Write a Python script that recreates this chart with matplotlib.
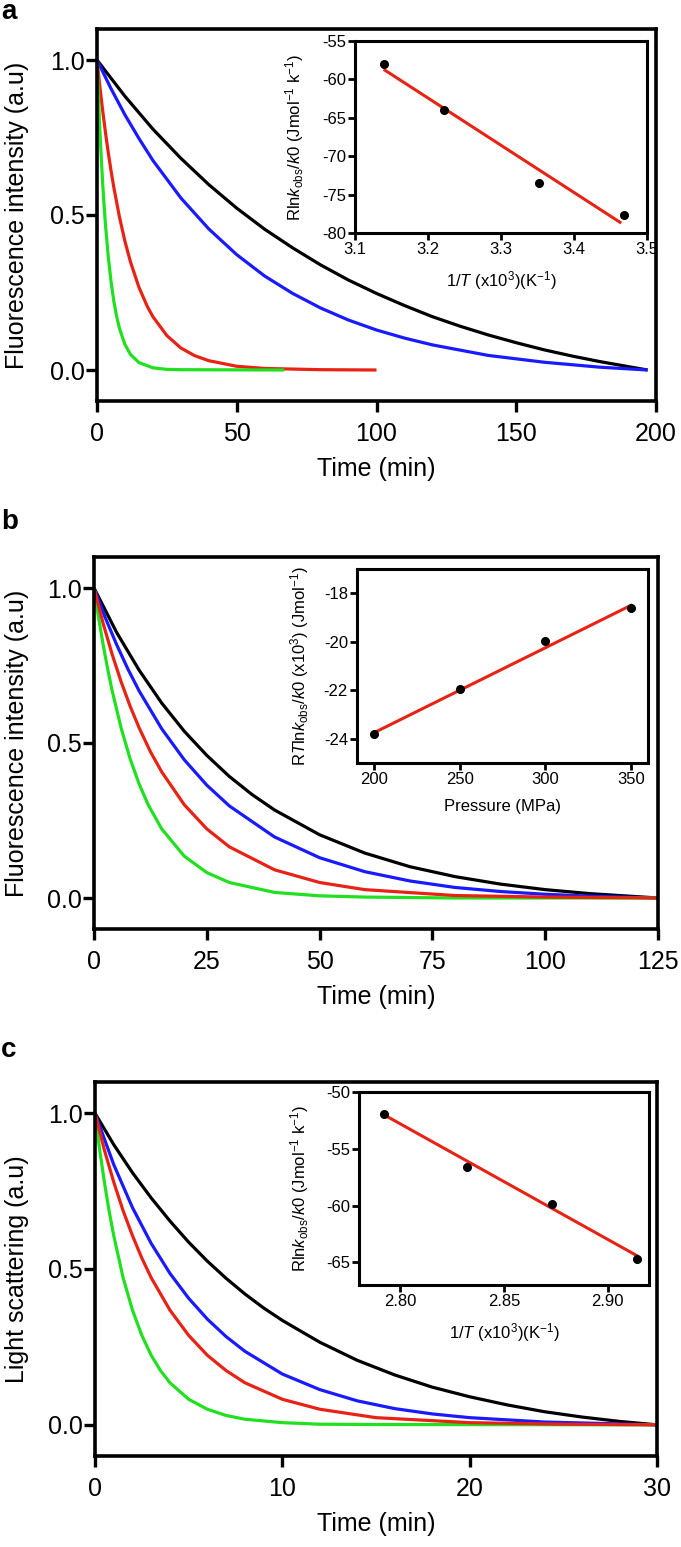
import matplotlib
matplotlib.use("Agg")
import matplotlib.pyplot as plt
import numpy as np

plt.rcParams['font.family'] = ['Liberation Sans', 'DejaVu Sans']
plt.rcParams['mathtext.fontset'] = 'custom'
plt.rcParams['mathtext.rm'] = 'Liberation Sans'
plt.rcParams['mathtext.it'] = 'Liberation Sans:italic'
plt.rcParams['axes.unicode_minus'] = False

# ---- panel a: fluorescence decay (min) ----
a_black_t = [0, 10, 20, 30, 40, 50, 60, 70, 80, 90, 100, 110, 120, 130, 140, 150, 160, 170, 180, 190, 197]
a_black_v = [1.0, 0.883, 0.777, 0.683, 0.598, 0.522, 0.454, 0.394, 0.339, 0.290, 0.247, 0.208, 0.172, 0.141, 0.113, 0.088, 0.065, 0.045, 0.027, 0.011, 0.0]
a_blue_t = [0, 5, 10, 15, 20, 30, 40, 50, 60, 70, 80, 90, 100, 110, 120, 140, 160, 180, 197]
a_blue_v = [1.0, 0.908, 0.823, 0.747, 0.676, 0.555, 0.455, 0.372, 0.303, 0.247, 0.200, 0.161, 0.129, 0.103, 0.081, 0.047, 0.025, 0.009, 0.0]
a_red_t = [0, 1, 2, 3, 4, 5, 6, 8, 10, 12, 15, 18, 20, 25, 30, 35, 40, 50, 60, 80, 100]
a_red_v = [1.0, 0.916, 0.839, 0.768, 0.703, 0.644, 0.590, 0.495, 0.415, 0.348, 0.267, 0.205, 0.172, 0.111, 0.071, 0.046, 0.030, 0.012, 0.005, 0.001, 0.0]
a_green_t = [0, 0.5, 1, 1.5, 2, 2.5, 3, 4, 5, 6, 7, 8, 10, 12, 15, 20, 25, 30, 67]
a_green_v = [1.0, 0.883, 0.779, 0.687, 0.607, 0.535, 0.472, 0.368, 0.287, 0.223, 0.174, 0.135, 0.082, 0.050, 0.024, 0.007, 0.002, 0.001, 0.0]
a_ins_x = [3.14, 3.222, 3.352, 3.468]
a_ins_y = [-58.0, -64.0, -73.5, -77.6]
a_fit_x = [3.141, 3.463]
a_fit_y = [-58.8, -78.6]

# ---- panel b ----
b_black_t = [0, 5, 10, 15, 20, 25, 30, 35, 40, 50, 60, 70, 80, 90, 100, 110, 125]
b_black_v = [1.0, 0.857, 0.735, 0.629, 0.538, 0.460, 0.392, 0.334, 0.284, 0.204, 0.145, 0.101, 0.069, 0.045, 0.027, 0.014, 0.0]
b_blue_t = [0, 2.5, 5, 7.5, 10, 15, 20, 25, 30, 40, 50, 60, 70, 80, 90, 100, 110, 125]
b_blue_v = [1.0, 0.904, 0.818, 0.739, 0.668, 0.546, 0.446, 0.364, 0.297, 0.197, 0.130, 0.085, 0.055, 0.034, 0.021, 0.012, 0.006, 0.0]
b_red_t = [0, 2, 4, 6, 8, 10, 12.5, 15, 20, 25, 30, 40, 50, 60, 80, 100, 125]
b_red_v = [1.0, 0.887, 0.787, 0.698, 0.619, 0.549, 0.472, 0.407, 0.301, 0.223, 0.165, 0.091, 0.050, 0.027, 0.008, 0.003, 0.0]
b_green_t = [0, 1, 2, 3, 4, 6, 8, 10, 12, 15, 20, 25, 30, 40, 50, 60, 80, 125]
b_green_v = [1.0, 0.905, 0.819, 0.741, 0.670, 0.549, 0.449, 0.368, 0.301, 0.223, 0.135, 0.082, 0.050, 0.018, 0.007, 0.003, 0.0, 0.0]
b_ins_x = [200, 250, 300, 350]
b_ins_y = [-23.8, -21.95, -19.97, -18.6]
b_fit_x = [200, 350]
b_fit_y = [-23.75, -18.5]

# ---- panel c: light scattering ----
c_black_t = [0, 1, 2, 3, 4, 5, 6, 7, 8, 9, 10, 12, 14, 16, 18, 20, 22, 24, 26, 28, 30]
c_black_v = [1.0, 0.899, 0.809, 0.728, 0.654, 0.586, 0.525, 0.470, 0.420, 0.375, 0.335, 0.265, 0.207, 0.160, 0.121, 0.090, 0.064, 0.042, 0.025, 0.011, 0.0]
c_blue_t = [0, 1, 2, 3, 4, 5, 6, 7, 8, 10, 12, 14, 16, 18, 20, 24, 30]
c_blue_v = [1.0, 0.835, 0.697, 0.582, 0.486, 0.406, 0.339, 0.283, 0.236, 0.163, 0.113, 0.077, 0.052, 0.035, 0.023, 0.009, 0.0]
c_red_t = [0, 0.5, 1, 1.5, 2, 2.5, 3, 4, 5, 6, 7, 8, 10, 12, 15, 20, 25, 30]
c_red_v = [1.0, 0.882, 0.779, 0.687, 0.607, 0.535, 0.472, 0.368, 0.287, 0.223, 0.174, 0.135, 0.082, 0.050, 0.023, 0.007, 0.002, 0.0]
c_green_t = [0, 0.25, 0.5, 0.75, 1, 1.5, 2, 2.5, 3, 3.5, 4, 5, 6, 7, 8, 10, 12, 15, 30]
c_green_v = [1.0, 0.882, 0.779, 0.687, 0.607, 0.472, 0.368, 0.287, 0.223, 0.174, 0.135, 0.082, 0.050, 0.030, 0.018, 0.007, 0.002, 0.001, 0.0]
c_ins_x = [2.792, 2.832, 2.873, 2.914]
c_ins_y = [-51.9, -56.6, -59.9, -64.7]
c_fit_x = [2.792, 2.914]
c_fit_y = [-52.0, -64.4]

W, H = 681, 1547
BLUE, RED, GREEN = '#1a1aff', '#e82214', '#20e020'


def box(l, t, r, b):
    return [l / W, 1 - b / H, (r - l) / W, (b - t) / H]


fig = plt.figure(figsize=(W / 100, H / 100), dpi=100)


def main_axes(px, xmax, xticks, ylabel, curves):
    l, t, r, b = px
    ax = fig.add_axes(box(*px))
    for tt, v, c in curves:
        ax.plot(tt, v, color=c, lw=2.3, solid_capstyle='butt', solid_joinstyle='round')
    ax.set_xlim(0, xmax)
    ax.set_ylim(-0.1, 1.1)
    ax.set_xticks(xticks)
    ax.set_yticks([0, 0.5, 1.0])
    ax.set_yticklabels(['0.0', '0.5', '1.0'])
    for s in ax.spines.values():
        s.set_linewidth(2.6)
    ax.tick_params(direction='out', length=8, width=2.4, labelsize=18)
    ax.tick_params(axis='x', pad=7)
    ax.tick_params(axis='y', pad=1)
    ax.set_xlabel('Time (min)', fontsize=18)
    ax.set_ylabel(ylabel, fontsize=18)
    ax.xaxis.set_label_coords(0.5, -56 / (b - t))
    ax.yaxis.set_label_coords((29 - l) / (r - l), 0.5)
    return ax


def inset_axes(px, x, y, fx, fy, xlim, ylim, xticks, yticks, xfmt, xlabel, ylabel, ylab_right):
    l, t, r, b = px
    ax = fig.add_axes(box(*px), zorder=5)
    ax.set_facecolor('white')
    ax.plot(fx, fy, color=RED, lw=2.2)
    ax.plot(x, y, 'o', color='black', ms=5.5)
    ax.set_xlim(*xlim)
    ax.set_ylim(*ylim)
    ax.set_xticks(xticks)
    ax.set_xticklabels([xfmt.format(v) for v in xticks])
    ax.set_yticks(yticks)
    for s in ax.spines.values():
        s.set_linewidth(2.2)
    ax.tick_params(direction='out', length=5, width=2.0, labelsize=12, pad=1.5)
    ax.set_xlabel(xlabel, fontsize=12)
    ax.set_ylabel(ylabel, fontsize=12)
    ax.xaxis.set_label_coords(0.5, -36 / (b - t))
    ax.yaxis.set_label_coords((ylab_right - l) / (r - l), 0.5)
    return ax


# panel a
main_axes((97, 29, 656, 401), 200, [0, 50, 100, 150, 200], 'Fluorescence intensity (a.u)',
          [(a_black_t, a_black_v, 'black'), (a_blue_t, a_blue_v, BLUE),
           (a_red_t, a_red_v, RED), (a_green_t, a_green_v, GREEN)])
inset_axes((355, 41, 647, 233), a_ins_x, a_ins_y, a_fit_x, a_fit_y,
           (3.1, 3.5), (-80, -55), [3.1, 3.2, 3.3, 3.4, 3.5], [-55, -60, -65, -70, -75, -80], '{:.1f}',
           r'1/$T$ (x10$^3$)(K$^{-1}$)', r'Rln$k_{\mathrm{obs}}$/$k$0 (Jmol$^{-1}$ k$^{-1}$)', 306)

# panel b
main_axes((94, 557, 658, 929), 125, [0, 25, 50, 75, 100, 125], 'Fluorescence intensity (a.u)',
          [(b_black_t, b_black_v, 'black'), (b_blue_t, b_blue_v, BLUE),
           (b_green_t, b_green_v, GREEN), (b_red_t, b_red_v, RED)])
inset_axes((357, 569, 648, 763), b_ins_x, b_ins_y, b_fit_x, b_fit_y,
           (190, 360), (-25, -17), [200, 250, 300, 350], [-18, -20, -22, -24], '{:.0f}',
           'Pressure (MPa)', r'R$T$ln$k_{\mathrm{obs}}$/$k$0 (x10$^3$) (Jmol$^{-1}$)', 311)

# panel c
main_axes((95, 1082, 657, 1456), 30, [0, 10, 20, 30], 'Light scattering (a.u)',
          [(c_black_t, c_black_v, 'black'), (c_blue_t, c_blue_v, BLUE),
           (c_green_t, c_green_v, GREEN), (c_red_t, c_red_v, RED)])
inset_axes((359, 1092, 649, 1285), c_ins_x, c_ins_y, c_fit_x, c_fit_y,
           (2.78, 2.92), (-67, -50), [2.80, 2.85, 2.90], [-50, -55, -60, -65], '{:.2f}',
           r'1/$T$ (x10$^3$)(K$^{-1}$)', r'Rln$k_{\mathrm{obs}}$/$k$0 (Jmol$^{-1}$ k$^{-1}$)', 311)

for letter, y in [('a', 12), ('b', 522), ('c', 1050)]:
    fig.text(1 / W, 1 - y / H, letter, fontsize=20, fontweight='bold', va='center', ha='left')

fig.savefig('out.png', dpi=100)
